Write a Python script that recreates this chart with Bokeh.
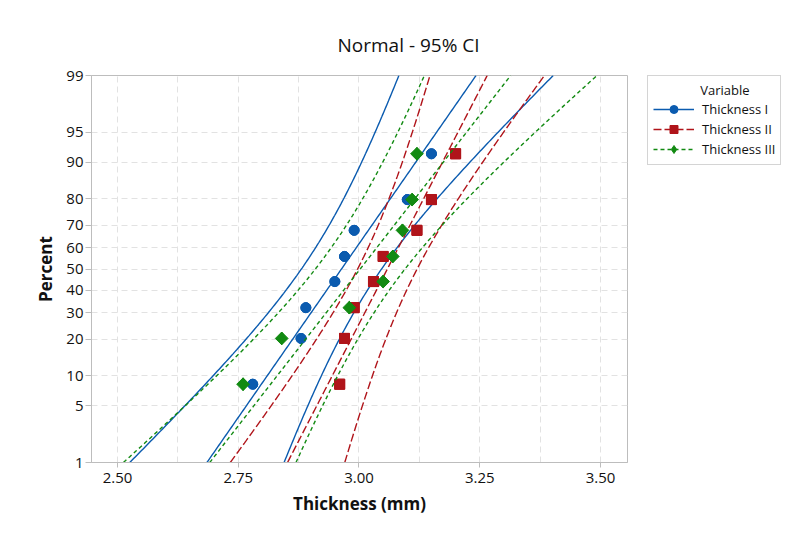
from statistics import NormalDist
import numpy as np
from bokeh.plotting import figure
from bokeh.models import Range1d, FixedTicker, Legend, LegendItem
from bokeh.embed import file_html
from bokeh.resources import INLINE

# ---- data -------------------------------------------------------------
series_names = ["Thickness I", "Thickness II", "Thickness III"]
thickness_1 = [2.78, 2.88, 2.89, 2.95, 2.97, 2.99, 3.10, 3.15]
thickness_2 = [2.96, 2.97, 2.99, 3.03, 3.05, 3.12, 3.15, 3.20]
thickness_3 = [2.76, 2.84, 2.98, 3.05, 3.07, 3.09, 3.11, 3.12]
plot_percent = [8.3, 20.2, 32.1, 44.0, 56.0, 67.9, 79.8, 91.7]
percent_ticks = [1, 5, 10, 20, 30, 40, 50, 60, 70, 80, 90, 95, 99]
x_ticks = [2.50, 2.75, 3.00, 3.25, 3.50]
x_tick_labels = ["2.50", "2.75", "3.00", "3.25", "3.50"]
confidence = 0.95

colors = ["#0B5BAF", "#B0141A", "#128A12"]
dashes = ["solid", "8 3", "4 3"]
markers = ["circle", "square", "square"]
legend_markers = ["circle", "square", "diamond"]
marker_sizes = [10, 10, 9]
legend_marker_sizes = [10, 10, 12.7]
marker_angles = [0, 0, np.pi / 4]

nd = NormalDist()
def probit(p):
    return nd.inv_cdf(p / 100.0)

z_lo, z_hi = probit(percent_ticks[0]), probit(percent_ticks[-1])

p = figure(frame_width=536, frame_height=387,
           min_border_left=91, min_border_top=75, min_border_bottom=60,
           min_border_right=20,
           x_range=Range1d(2.4462, 3.5559), y_range=Range1d(z_lo, z_hi),
           output_backend="svg", toolbar_location=None,
           title="Normal - 95% CI")

FONT = "Open Sans"
p.title.text_font = FONT
p.title.text_font_size = "19px"
p.title.text_font_style = "normal"
p.title.align = "left"
p.title.offset = 246
p.title.standoff = 36
p.title.text_color = "#111111"

p.outline_line_color = "#BDBDBD"
p.outline_line_width = 1
p.background_fill_color = "white"
p.border_fill_color = "white"

# axes
minor = list((np.array(x_ticks[:-1]) + np.array(x_ticks[1:])) / 2)
p.xaxis.ticker = FixedTicker(ticks=x_ticks, minor_ticks=minor)
p.xaxis.major_label_overrides = {t: l for t, l in zip(x_ticks, x_tick_labels)}
z_ticks = [probit(v) for v in percent_ticks]
p.yaxis.ticker = FixedTicker(ticks=z_ticks)
p.yaxis.major_label_overrides = {z: str(v) for z, v in zip(z_ticks, percent_ticks)}

for ax in (p.xaxis[0], p.yaxis[0]):
    ax.axis_line_color = "#BDBDBD"
    ax.major_tick_line_color = "#BDBDBD"
    ax.minor_tick_line_color = None
    ax.major_label_text_font = FONT
    ax.major_label_text_font_size = "15px"
    ax.major_label_text_color = "#111111"
    ax.axis_label_text_font = FONT
    ax.axis_label_text_font_style = "bold"
    ax.axis_label_text_color = "#111111"

p.xaxis.axis_label = "Thickness (mm)"
p.xaxis.axis_label_text_font_size = "17px"
p.xaxis.major_tick_in = 0
p.xaxis.major_tick_out = 5
p.xaxis.major_label_standoff = 5
p.xaxis.axis_label_standoff = 6
p.yaxis.axis_label = "Percent"
p.yaxis.axis_label_text_font_size = "17px"
p.yaxis.major_tick_in = 0
p.yaxis.major_tick_out = 6
p.yaxis.major_label_standoff = 2
p.yaxis.axis_label_standoff = 6

p.xgrid.grid_line_color = "#E2E2E2"
p.xgrid.grid_line_dash = "6 4"
p.xgrid.minor_grid_line_color = "#E2E2E2"
p.xgrid.minor_grid_line_dash = "6 4"
p.ygrid.grid_line_color = "#E2E2E2"
p.ygrid.grid_line_dash = "6 4"

# ---- series: fit line, 95% CI, points ---------------------------------
z_grid = np.linspace(z_lo, z_hi, 200)
zc = nd.inv_cdf(0.5 + confidence / 2)
items = []
for i, (name, vals) in enumerate(zip(series_names,
                                     [thickness_1, thickness_2, thickness_3])):
    col, dash = colors[i], dashes[i]
    v = np.array(vals)
    n = len(v)
    mu, sd = v.mean(), v.std(ddof=1)
    fit = mu + sd * z_grid
    se = sd * np.sqrt(1.0 / n + z_grid ** 2 / (2.0 * n))
    r_fit = p.line(fit, z_grid, line_color=col, line_width=1.4, line_dash=dash)
    p.line(fit - zc * se, z_grid, line_color=col, line_width=1.4, line_dash=dash)
    p.line(fit + zc * se, z_grid, line_color=col, line_width=1.4, line_dash=dash)
    yz = [probit(q) for q in plot_percent]
    # key marker (drawn underneath; its shape is what the legend shows)
    r_key = p.scatter(vals, yz, marker=legend_markers[i],
                      size=legend_marker_sizes[i], fill_color=col, line_color=col)
    p.scatter(vals, yz, marker=markers[i], size=marker_sizes[i],
              angle=marker_angles[i], fill_color=col, line_color=col)
    items.append(LegendItem(label=name, renderers=[r_fit, r_key]))

legend = Legend(items=items, location=(20, 297),
                title="\u00a0" * 14 + "Variable")
legend.title_text_font = FONT
legend.title_text_font_size = "13px"
legend.title_text_font_style = "normal"
legend.title_text_color = "#111111"
legend.title_standoff = 0
legend.label_text_font = FONT
legend.label_text_font_size = "13px"
legend.label_text_color = "#111111"
legend.glyph_width = 41
legend.glyph_height = 20
legend.label_height = 20
legend.label_standoff = 8
legend.spacing = 0
legend.padding = 5
legend.margin = 20
legend.border_line_color = "#AAAAAA"
legend.border_line_width = 1
legend.background_fill_color = "white"
p.add_layout(legend, "right")

open("out.html", "w").write(file_html(p, INLINE))
